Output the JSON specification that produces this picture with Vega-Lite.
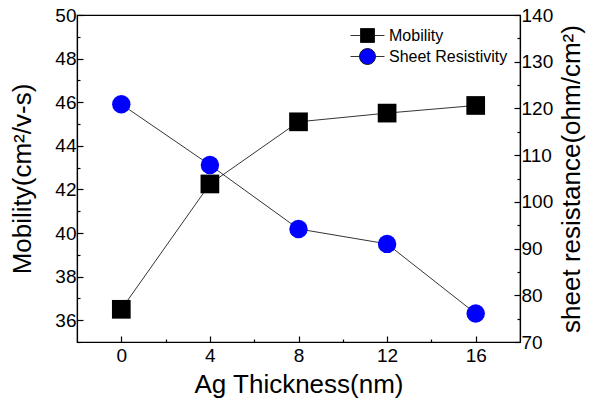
{
  "$schema": "https://vega.github.io/schema/vega-lite/v6.json",
  "width": 443,
  "height": 327,
  "autosize": {"type": "none"},
  "padding": {"left": 77, "top": 15, "right": 79, "bottom": 63},
  "background": "white",
  "config": {
    "font": "Liberation Sans",
    "view": {"stroke": "black", "strokeWidth": 1.2},
    "axis": {
      "grid": false,
      "domainColor": "black",
      "domainWidth": 1.2,
      "tickColor": "black",
      "tickWidth": 1.2,
      "labelColor": "black",
      "titleColor": "black",
      "labelFontSize": 19,
      "titleFontSize": 26,
      "titleFontWeight": "normal"
    }
  },
  "data": {
    "values": [
      {"t": 0, "mob": 36.5, "rs": 120.9},
      {"t": 4, "mob": 42.25, "rs": 107.9},
      {"t": 8, "mob": 45.1, "rs": 94.2},
      {"t": 12, "mob": 45.5, "rs": 91.0},
      {"t": 16, "mob": 45.85, "rs": 76.1}
    ]
  },
  "encoding": {
    "x": {
      "field": "t",
      "type": "quantitative",
      "scale": {"domain": [-2, 18], "nice": false, "zero": false},
      "axis": {
        "title": "Ag Thickness(nm)",
        "values": [0, 2, 4, 6, 8, 10, 12, 14, 16],
        "labelExpr": "datum.value % 4 === 0 ? datum.label : ''",
        "tickSize": {"condition": {"test": "datum.value % 4 === 0", "value": -6}, "value": -3},
        "labelPadding": 10,
        "titlePadding": 6
      }
    }
  },
  "layer": [
    {
      "encoding": {
        "y": {
          "field": "mob",
          "type": "quantitative",
          "scale": {"domain": [35, 50], "nice": false, "zero": false},
          "axis": {
            "orient": "left",
            "title": "Mobility(cm²/v-s)",
            "values": [35, 36, 37, 38, 39, 40, 41, 42, 43, 44, 45, 46, 47, 48, 49, 50],
            "labelExpr": "datum.value % 2 === 0 ? datum.label : ''",
            "tickSize": {"condition": {"test": "datum.value % 2 === 0", "value": -6}, "value": -3},
            "labelPadding": 7,
            "titlePadding": 19
          }
        }
      },
      "layer": [
        {"mark": {"type": "line", "color": "black", "strokeWidth": 0.8}},
        {
          "mark": {"type": "point", "shape": "square", "filled": true, "size": 350, "opacity": 1},
          "encoding": {
            "color": {
              "datum": "Mobility",
              "scale": {"domain": ["Mobility", "Sheet Resistivity"], "range": ["black", "#0000ff"]},
              "legend": {
                "title": null,
                "orient": "none",
                "legendX": 280,
                "legendY": 10,
                "symbolSize": 400,
                "rowPadding": 1,
                "labelOffset": 11,
                "labelFontSize": 16,
                "labelColor": "black",
                "symbolOpacity": 1,
                "encode": {
                  "symbols": {
                    "update": {
                      "shape": {"signal": "datum.value === 'Mobility' ? 'M-1.7,0H-0.7M0.7,0H1.7M-0.7,-0.7H0.7V0.7H-0.7Z' : 'M-1.7,0H-0.8M0.8,0H1.7M0.8,0A0.8,0.8,0,1,1,-0.8,0A0.8,0.8,0,1,1,0.8,0Z'"},
                      "stroke": {"value": "black"},
                      "strokeWidth": {"value": 0.8}
                    }
                  }
                }
              }
            }
          }
        }
      ]
    },
    {
      "encoding": {
        "y": {
          "field": "rs",
          "type": "quantitative",
          "scale": {"domain": [70, 140], "nice": false, "zero": false},
          "axis": {
            "orient": "right",
            "title": "sheet resistance(ohm/cm²)",
            "titleAngle": 270,
            "titleBaseline": "top",
            "values": [70, 75, 80, 85, 90, 95, 100, 105, 110, 115, 120, 125, 130, 135, 140],
            "labelExpr": "datum.value % 10 === 0 ? datum.label : ''",
            "tickSize": {"condition": {"test": "datum.value % 10 === 0", "value": -6}, "value": -3},
            "labelPadding": 7,
            "titlePadding": 6
          }
        }
      },
      "layer": [
        {"mark": {"type": "line", "color": "black", "strokeWidth": 0.8}},
        {
          "mark": {"type": "point", "shape": "circle", "filled": true, "size": 340, "opacity": 1},
          "encoding": {"color": {"datum": "Sheet Resistivity"}}
        }
      ]
    }
  ],
  "resolve": {"scale": {"y": "independent"}}
}
